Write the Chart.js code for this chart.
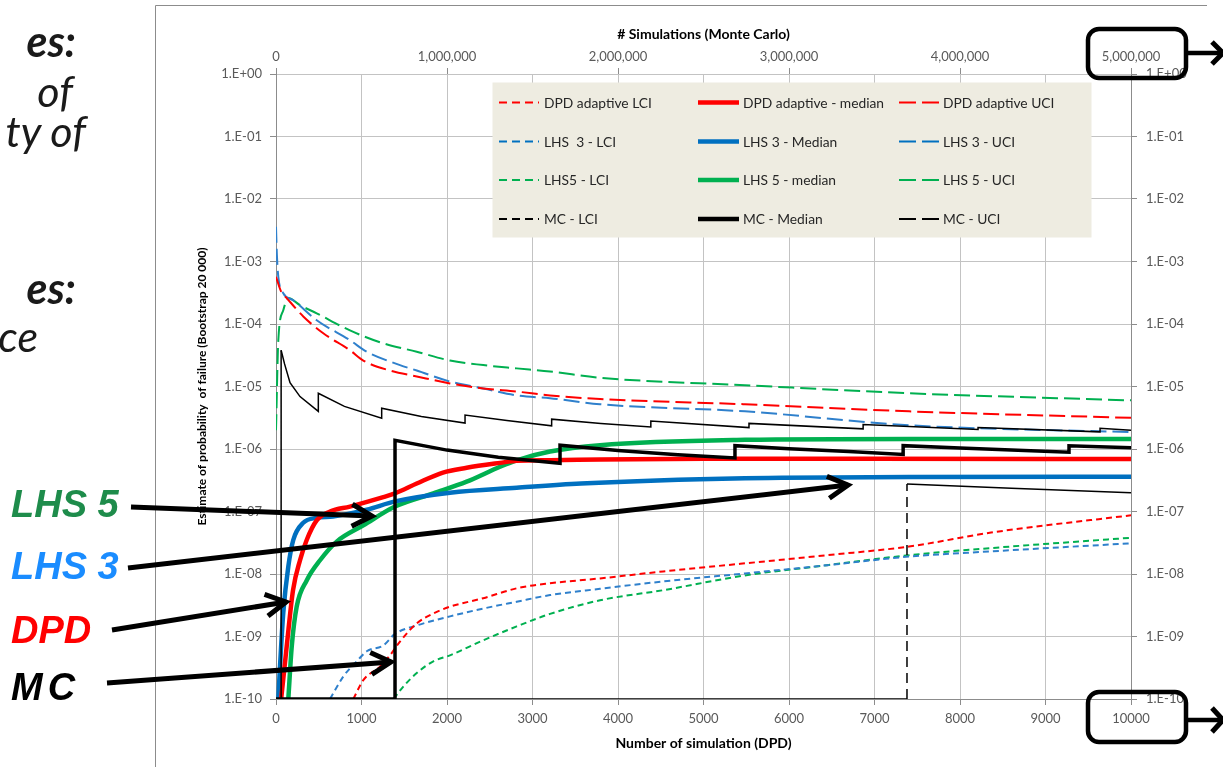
<!DOCTYPE html>
<html>
<head>
<meta charset="utf-8">
<script src="https://cdn.jsdelivr.net/npm/chart.js@4.4.1/dist/chart.umd.min.js"></script>
<style>
html,body{margin:0;padding:0;background:#fff;}
body{width:1223px;height:767px;position:relative;overflow:hidden;}
#c{position:absolute;left:0;top:0;}
#ov{position:absolute;left:0;top:0;}
</style>
</head>
<body>
<canvas id="c" width="1223" height="767" style="width:1223px;height:767px"></canvas>
<svg id="ov" width="1223" height="767" xmlns="http://www.w3.org/2000/svg"></svg>
<script>
// ---------- tick labels ----------
const xTicks = [0,1000,2000,3000,4000,5000,6000,7000,8000,9000,10000];
const xTickLabels = ['0','1000','2000','3000','4000','5000','6000','7000','8000','9000','10000'];
const topTicks = [0,1000000,2000000,3000000,4000000,5000000];
const topTickLabels = ['0','1,000,000','2,000,000','3,000,000','4,000,000','5,000,000'];
const yTicks = [1e-10,1e-9,1e-8,1e-7,1e-6,1e-5,1e-4,1e-3,1e-2,1e-1,1];
const yTickLabels = ['1.E-10','1.E-09','1.E-08','1.E-07','1.E-06','1.E-05','1.E-04','1.E-03','1.E-02','1.E-01','1.E+00'];

// ---------- DPD adaptive ----------
const dpdLciX = [904,1021,1216,1333,1450,1646,1840,2035,2424,2815,3205,3790,4527,5485,6444,7404,8363,10000];
const dpdLciY = [1e-10,2.0e-10,3.3e-10,5.0e-10,8.3e-10,1.62e-9,2.34e-9,3.0e-9,4.1e-9,5.9e-9,7.1e-9,8.5e-9,1.1e-8,1.48e-8,2.0e-8,2.75e-8,4.6e-8,8.7e-8];
const dpdMedX = [60,125,199,281,359,476,632,865,1255,1392,1646,1953,2230,2620,2815,3205,3790,5000,7000,10000];
const dpdMedY = [1e-10,6.9e-10,5.5e-9,1.66e-8,3.5e-8,7.2e-8,1.0e-7,1.2e-7,1.7e-7,1.95e-7,2.8e-7,4.2e-7,5.0e-7,6.0e-7,6.5e-7,6.6e-7,6.8e-7,7.0e-7,7.0e-7,6.9e-7];
const dpdUciX = [0,60,125,319,553,865,1021,1333,1646,2035,2424,2815,3205,3790,5485,7404,10000];
const dpdUciY = [5.7e-4,3.3e-4,2.6e-4,1.32e-4,7.1e-5,3.8e-5,2.6e-5,1.8e-5,1.45e-5,1.12e-5,9.3e-6,8.3e-6,7.2e-6,6.3e-6,5.2e-6,4.0e-6,3.15e-6];

// ---------- LHS 3 ----------
const lhs3LciX = [632,788,944,1061,1255,1392,1646,2035,2424,2815,3205,3790,4527,5485,6444,7404,8363,10000];
const lhs3LciY = [1e-10,2.3e-10,4.0e-10,5.8e-10,7.2e-10,1.1e-9,1.5e-9,2.1e-9,2.8e-9,3.6e-9,4.6e-9,5.8e-9,7.6e-9,1.02e-8,1.38e-8,1.9e-8,2.3e-8,3.1e-8];
const lhs3MedX = [27,47,85,144,202,319,476,667,1061,1392,2035,2815,3567,5485,7404,10000];
const lhs3MedY = [1e-10,3.3e-10,2.4e-9,1.32e-8,3.5e-8,6.6e-8,7.9e-8,8.3e-8,1.07e-7,1.45e-7,2.0e-7,2.4e-7,2.8e-7,3.4e-7,3.55e-7,3.6e-7];
const lhs3UciX = [0,10,27,85,202,476,865,1061,1450,1646,2035,2424,2815,3205,3790,5485,7404,10000];
const lhs3UciY = [3.6e-3,1.3e-3,5.7e-4,3.1e-4,2.4e-4,1.15e-4,5.5e-5,3.6e-5,2.2e-5,1.8e-5,1.2e-5,9.3e-6,7.2e-6,6.5e-6,5.2e-6,4.0e-6,2.4e-6,1.86e-6];

// ---------- LHS 5 ----------
const lhs5LciX = [1375,1489,1646,1840,2035,2424,2815,3205,3790,4527,5485,6444,7404,8363,10000];
const lhs5LciY = [1.0e-10,1.58e-10,2.6e-10,4.0e-10,5.0e-10,8.7e-10,1.45e-9,2.3e-9,3.8e-9,5.5e-9,9.5e-9,1.38e-8,2.0e-8,2.6e-8,3.8e-8];
const lhs5MedX = [144,184,242,359,515,710,1021,1392,1840,2230,2620,2815,3205,3790,5485,7404,10000];
const lhs5MedY = [1e-10,6.9e-10,3.0e-9,7.9e-9,1.66e-8,3.3e-8,6.0e-8,1.2e-7,1.95e-7,3.0e-7,5.2e-7,6.6e-7,9.1e-7,1.15e-6,1.4e-6,1.45e-6,1.45e-6];
const lhs5UciX = [0,27,85,144,281,476,865,1255,1646,2035,2424,2815,3205,3790,5485,7404,10000];
const lhs5UciY = [2.0e-6,5.5e-5,1.66e-4,2.6e-4,2.0e-4,1.48e-4,7.9e-5,4.9e-5,3.6e-5,2.6e-5,2.2e-5,1.95e-5,1.74e-5,1.38e-5,1.05e-5,7.8e-6,6.0e-6];

// ---------- Monte Carlo ----------
const mcLciX = [60,60,7380,7380,8600,10000];
const mcLciY = [3.8e-5,1e-10,1e-10,2.75e-7,2.36e-7,2.0e-7];
const mcMedX = [0,1392,1392,2000,2600,3322,3322,4000,4700,5368,5368,6000,6700,7335,7335,8000,8600,9275,9275,10000];
const mcMedY = [1e-10,1e-10,1.38e-6,9.6e-7,7.4e-7,5.9e-7,1.15e-6,9.5e-7,8.1e-7,7.2e-7,1.13e-6,1.01e-6,9.1e-7,8.2e-7,1.13e-6,1.04e-6,9.6e-7,8.9e-7,1.13e-6,1.05e-6];
const mcUciX = [60,100,164,281,495,495,800,1236,1236,1700,2211,2211,2700,3224,3224,3800,4384,4384,5532,5532,6867,6867,8211,8211,9638,9638,10000];
const mcUciY = [3.8e-5,2.3e-5,1.15e-5,6.9e-6,4.0e-6,7.8e-6,4.8e-6,3.1e-6,4.5e-6,3.3e-6,2.6e-6,3.5e-6,2.85e-6,2.35e-6,3.0e-6,2.55e-6,2.25e-6,2.8e-6,2.2e-6,2.57e-6,2.1e-6,2.47e-6,2.05e-6,2.2e-6,1.88e-6,2.14e-6,2.0e-6];

const legendLabels = [
  ['DPD adaptive LCI','DPD adaptive - median','DPD adaptive UCI'],
  ['LHS  3 - LCI','LHS 3 - Median','LHS 3 - UCI'],
  ['LHS5 - LCI','LHS 5 - median','LHS 5 - UCI'],
  ['MC - LCI','MC - Median','MC - UCI']
];

const RED='#FF0000', BLUE='#0070C0', BLUE_D='#2F80CC', GREEN='#00B050', BLACK='#000000';
const LCI_DASH=[6,4], UCI_DASH=[16,6];

function pts(xs, ys){ return xs.map((x,i)=>({x:x, y:ys[i]})); }
function series(label, xs, ys, color, kind, order, smooth){
  const d = {label:label, data:pts(xs,ys), borderColor:color, backgroundColor:color,
    pointRadius:0, fill:false, order:order, tension:0};
  if (smooth) d.cubicInterpolationMode='monotone';
  if (kind==='lci'){ d.borderWidth=2; d.borderDash=LCI_DASH; }
  else if (kind==='uci'){ d.borderWidth=2; d.borderDash=UCI_DASH; }
  else if (kind==='med'){ d.borderWidth=4.5; }
  return d;
}

const datasets = [
  series('MC - Median', mcMedX, mcMedY, BLACK, 'med', 0, false),
  series('MC - UCI', mcUciX, mcUciY, BLACK, 'thin', 1, false),
  series('MC - LCI', mcLciX, mcLciY, BLACK, 'thin', 2, false),
  series('DPD adaptive - median', dpdMedX, dpdMedY, RED, 'med', 3, true),
  series('LHS 3 - Median', lhs3MedX, lhs3MedY, BLUE, 'med', 4, true),
  series('LHS 5 - median', lhs5MedX, lhs5MedY, GREEN, 'med', 5, true),
  series('DPD adaptive LCI', dpdLciX, dpdLciY, RED, 'lci', 6, true),
  series('LHS  3 - LCI', lhs3LciX, lhs3LciY, BLUE_D, 'lci', 7, true),
  series('LHS5 - LCI', lhs5LciX, lhs5LciY, GREEN, 'lci', 8, true),
  series('DPD adaptive UCI', dpdUciX, dpdUciY, RED, 'uci', 9, true),
  series('LHS 3 - UCI', lhs3UciX, lhs3UciY, BLUE_D, 'uci', 10, true),
  series('LHS 5 - UCI', lhs5UciX, lhs5UciY, GREEN, 'uci', 11, true)
];
datasets[0].borderWidth = 3.5;
datasets[1].borderWidth = 1.5;
datasets[2].borderWidth = 1.5;
datasets[2].segment = { borderDash: ctx => (ctx.p0.parsed.x === ctx.p1.parsed.x ? [10,6] : undefined) };

Chart.defaults.font.family = 'Lato, "Open Sans", sans-serif';
const TICK_COLOR = '#595959', GRID = '#C3C3C3', AXIS = '#8C8C8C';

new Chart(document.getElementById('c'), {
  type: 'line',
  data: { datasets: datasets },
  options: {
    responsive:false, animation:false, devicePixelRatio:1, events:[],
    layout:{ padding:{ left:156, right:12, top:6, bottom:10 } },
    plugins:{ legend:{display:false}, tooltip:{enabled:false} },
    scales:{
      x:{ type:'linear', position:'bottom', min:0, max:10000,
        afterBuildTicks: s => { s.ticks = xTicks.map(v=>({value:v})); },
        afterFit: s => { s.height = 58; },
        ticks:{ autoSkip:false, maxRotation:0, padding:6, color:TICK_COLOR, font:{size:13},
          callback: v => xTickLabels[xTicks.indexOf(v)] },
        grid:{ color:GRID, tickColor:AXIS, tickLength:6 },
        border:{ color:AXIS },
        title:{ display:true, text:'Number of simulation (DPD)', color:'#000', font:{size:14, weight:'bold'}, padding:{top:0,bottom:5} }
      },
      x2:{ type:'linear', position:'top', min:0, max:5000000,
        afterBuildTicks: s => { s.ticks = topTicks.map(v=>({value:v})); },
        afterFit: s => { s.height = 68; },
        ticks:{ autoSkip:false, maxRotation:0, padding:3, color:TICK_COLOR, font:{size:13},
          callback: v => topTickLabels[topTicks.indexOf(v)] },
        grid:{ drawOnChartArea:false, color:AXIS, tickColor:AXIS, tickLength:6 },
        border:{ color:GRID },
        title:{ display:true, text:'# Simulations (Monte Carlo)', color:'#000', font:{size:14, weight:'bold'}, padding:{top:20,bottom:0} }
      },
      y:{ type:'logarithmic', position:'left', min:1e-10, max:1,
        afterBuildTicks: s => { s.ticks = yTicks.map(v=>({value:v})); },
        afterFit: s => { s.width = 120; },
        ticks:{ autoSkip:false, padding:8, color:TICK_COLOR, font:{size:13},
          callback: v => yTickLabels[yTicks.indexOf(v)] },
        grid:{ color:GRID, tickColor:AXIS, tickLength:6 },
        border:{ color:AXIS },
        title:{ display:true, text:'Estimate of probability  of failure (Bootstrap 20 000)', color:'#000', font:{size:12, weight:'bold'}, padding:{top:39,bottom:0} }
      },
      y2:{ type:'logarithmic', position:'right', min:1e-10, max:1,
        afterBuildTicks: s => { s.ticks = yTicks.map(v=>({value:v})); },
        afterFit: s => { s.width = 80; },
        ticks:{ autoSkip:false, padding:9, color:TICK_COLOR, font:{size:13},
          callback: v => yTickLabels[yTicks.indexOf(v)] },
        grid:{ drawOnChartArea:false, color:AXIS, tickColor:AXIS, tickLength:6 },
        border:{ color:AXIS }
      }
    }
  }
});

// ---------- overlay: frame, legend, slide text, arrows ----------
const NS = 'http://www.w3.org/2000/svg';
const svg = document.getElementById('ov');
function el(tag, attrs, txt){
  const e = document.createElementNS(NS, tag);
  for (const k in attrs) e.setAttribute(k, attrs[k]);
  if (txt !== undefined) e.textContent = txt;
  svg.appendChild(e); return e;
}
// chart frame
el('path', {d:'M155.5,767 V5.5 H1207', fill:'none', stroke:'#8C8C8C', 'stroke-width':1});

// legend
el('rect', {x:492.5, y:82.5, width:599, height:155, fill:'#EEECE1'});
const rowsY = [102.5, 141.5, 180, 219];
const colLineX = [[499,539],[698,739],[899,939]];
const colTextX = [544, 743, 943];
const rowColors = [RED, BLUE, GREEN, BLACK];
for (let r=0; r<4; r++){
  for (let c=0; c<3; c++){
    const a = {x1:colLineX[c][0], x2:colLineX[c][1], y1:rowsY[r], y2:rowsY[r], stroke:rowColors[r]};
    if (c===0){ a['stroke-width']=2; a['stroke-dasharray']='8,5'; }
    else if (c===1){ a['stroke-width']=4.5; }
    else { a['stroke-width']=2; a['stroke-dasharray']='17,6'; }
    el('line', a);
    el('text', {x:colTextX[c], y:rowsY[r]+5, 'font-family':'Lato', 'font-size':13.8, fill:'#262626', style:'white-space:pre'}, legendLabels[r][c]);
  }
}

// slide text fragments (cut by left edge)
const slideFont = {'font-family':'Lato', 'font-style':'italic', 'font-size':43, fill:'#1a1a1a', 'text-anchor':'end'};
el('text', Object.assign({x:76, y:57, 'font-weight':'bold'}, slideFont), 'es:');
el('text', Object.assign({x:73, y:107}, slideFont), 'of');
el('text', Object.assign({x:86, y:147}, slideFont), 'ty of');
el('text', Object.assign({x:76, y:304, 'font-weight':'bold'}, slideFont), 'es:');
el('text', Object.assign({x:38, y:352}, slideFont), 'ce');

// method labels
const lab = {'font-family':'"Liberation Sans", Arial, sans-serif', 'font-style':'italic', 'font-weight':'bold', 'font-size':38};
el('text', Object.assign({x:11, y:517, fill:'#1E8C4B'}, lab), 'LHS 5');
el('text', Object.assign({x:11, y:579, fill:'#1A8CFF'}, lab), 'LHS 3');
el('text', Object.assign({x:11, y:643, fill:'#FF0000'}, lab), 'DPD');
el('text', Object.assign({x:11, y:700, fill:'#000000', 'letter-spacing':5}, lab), 'MC');

// arrows
function arrow(x1,y1,x2,y2){
  el('line', {x1:x1,y1:y1,x2:x2,y2:y2, stroke:'#000','stroke-width':5});
  const L = Math.hypot(x2-x1,y2-y1), ux=(x2-x1)/L, uy=(y2-y1)/L;
  const bx = x2-ux*20, by = y2-uy*20, px=-uy*11, py=ux*11;
  el('polyline', {points:`${bx+px},${by+py} ${x2},${y2} ${bx-px},${by-py}`, fill:'none', stroke:'#000','stroke-width':5,'stroke-linejoin':'miter'});
}
arrow(131,507,372,516);
arrow(128,568,848,485);
arrow(112,630,286,602);
arrow(107,683,391,662);

// highlighted axis ends
el('rect', {x:1088, y:29, width:98, height:49, rx:11, fill:'none', stroke:'#000','stroke-width':4.5});
el('rect', {x:1088, y:692, width:98, height:50, rx:11, fill:'none', stroke:'#000','stroke-width':4.5});
el('line', {x1:1186,y1:53,x2:1221,y2:53, stroke:'#000','stroke-width':4.5});
el('polyline', {points:'1212,42 1223,53 1212,64', fill:'none', stroke:'#000','stroke-width':5});
el('line', {x1:1186,y1:720,x2:1221,y2:720, stroke:'#000','stroke-width':4.5});
el('polyline', {points:'1212,708 1223,720 1212,732', fill:'none', stroke:'#000','stroke-width':5});
</script>
</body>
</html>
